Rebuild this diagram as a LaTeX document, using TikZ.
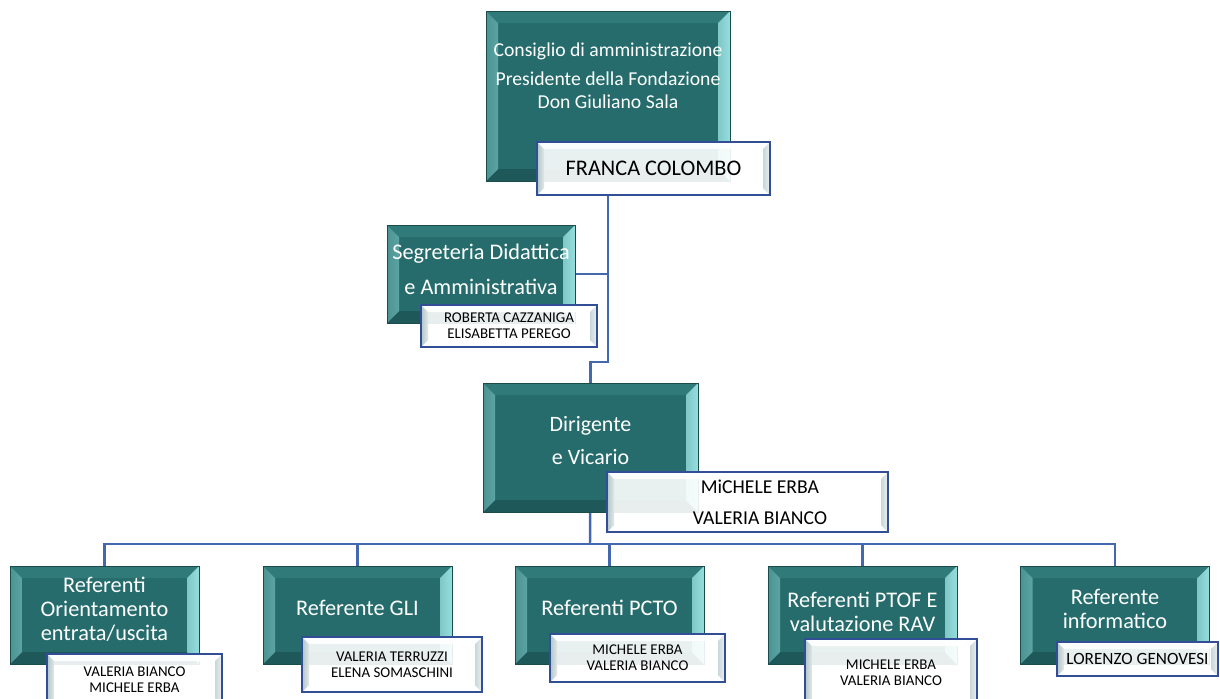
\documentclass[tikz,border=0pt]{standalone}
\usepackage{fontspec}
\setmainfont{Carlito}
\usepackage{tikz}
\usetikzlibrary{positioning, backgrounds, calc}

\definecolor{tealbase}{RGB}{38,108,108}
\definecolor{tealbordo}{RGB}{26,76,76}
\definecolor{bevsx}{RGB}{92,164,164}
\definecolor{bevdx}{RGB}{150,222,222}
\definecolor{bevsu}{RGB}{48,122,122}
\definecolor{bevgiu}{RGB}{30,88,88}
\definecolor{grigiosx}{RGB}{226,230,232}
\definecolor{grigiodx}{RGB}{236,238,240}
\definecolor{blubordo}{RGB}{50,78,150}
\definecolor{blulinea}{RGB}{68,104,176}

\newcommand{\pxu}{0.02cm}
% bevel: width, left, right, top, bottom colours
\newcommand{\smusso}[5]{%
  \coordinate (bsw) at (path picture bounding box.south west);
  \coordinate (bne) at (path picture bounding box.north east);
  \coordinate (bnw) at (bsw |- bne);
  \coordinate (bse) at (bne |- bsw);
  \coordinate (isw) at ([shift={(#1,#1)}]bsw);
  \coordinate (ine) at ([shift={(-#1,-#1)}]bne);
  \coordinate (inw) at ([shift={(#1,-#1)}]bnw);
  \coordinate (ise) at ([shift={(-#1,#1)}]bse);
  \fill[#4] (bnw) -- (bne) -- (ine) -- (inw) -- cycle;
  \fill[#5] (bsw) -- (bse) -- (ise) -- (isw) -- cycle;
  \shade[left color=#2!70!tealbase, right color=#2] (bsw) -- (bnw) -- (inw) -- (isw) -- cycle;
  \shade[left color=#3!80!tealbase, right color=#3] (bse) -- (bne) -- (ine) -- (ise) -- cycle;
}

\begin{document}
\begin{tikzpicture}[
    x=0.02cm, y=-0.02cm,
    misura/.style 2 args={minimum width=#1*\pxu, minimum height=#2*\pxu},
    ruolo/.style={rectangle, draw=tealbordo, fill=tealbase, line width=0.4pt, inner sep=0pt,
        path picture={\smusso{0.24cm}{bevsx}{bevdx}{bevsu}{bevgiu}}},
    nomi/.style={rectangle, draw=blubordo, fill=white, fill opacity=0.9, text opacity=1, line width=1.3pt,
        inner sep=0pt, align=center, font=\fontsize{8.5}{9.2}\selectfont,
        path picture={\smusso{0.14cm}{grigiosx}{grigiodx}{white}{white}}},
    titolo/.style={text=white, align=center, inner sep=0pt, font=\fontsize{12.7}{13.6}\selectfont},
    linea/.style={draw=blulinea, line width=1.4pt}
]
\useasboundingbox (0,0) rectangle (1220,698);

% Consiglio di amministrazione
\node[ruolo, misura={244}{170}] (cda) at (608,96) {};
\node[titolo, font=\fontsize{11.2}{13}\selectfont] (cda-t) at (608,76)
    {Consiglio di amministrazione\\[3.4pt]Presidente della Fondazione\\Don Giuliano Sala};
\node[nomi, misura={233}{53}, font=\fontsize{12.7}{14}\selectfont] (franca) at (653.5,168.5) {FRANCA COLOMBO};

% Segreteria
\node[ruolo, misura={188}{98}] (segr) at (481,274) {};
\node[titolo, font=\fontsize{12.7}{19.8}\selectfont] (segr-t) at (481,269.5) {Segreteria Didattica\\e Amministrativa};
\node[nomi, misura={176}{42}] (segr-n) at (509,326) {ROBERTA CAZZANIGA\\ELISABETTA PEREGO};

% Dirigente
\node[ruolo, misura={215}{129}] (dir) at (590.5,447.5) {};
\node[titolo, font=\fontsize{12.5}{18.7}\selectfont] (dir-t) at (590.5,440.5) {Dirigente\\e Vicario};
\node[nomi, misura={281}{60}, font=\fontsize{11.2}{17.6}\selectfont] (dir-n) at (747.5,502)
    {\hspace*{0.5cm}MiCHELE ERBA\\\hspace*{0.5cm}VALERIA BIANCO};

% Referenti
\node[ruolo, misura={189}{98}] (ref1) at (104.5,615) {};
\node[titolo] (ref1-t) at (104.5,609) {Referenti\\Orientamento\\entrata/uscita};
\node[nomi, misura={175}{51}] (ref1-n) at (134.5,679.5) {VALERIA BIANCO\\MICHELE ERBA};

\node[ruolo, misura={189}{98}] (ref2) at (357.5,615) {};
\node[titolo] (ref2-t) at (357.5,608) {Referente GLI};
\node[nomi, misura={180}{55}] (ref2-n) at (392,664.5) {VALERIA TERRUZZI\\ELENA SOMASCHINI};

\node[ruolo, misura={189}{98}] (ref3) at (609.5,615) {};
\node[titolo] (ref3-t) at (609.5,608) {Referenti PCTO};
\node[nomi, misura={175}{48}] (ref3-n) at (637.5,658) {MICHELE ERBA\\VALERIA BIANCO};

\node[ruolo, misura={189}{98}] (ref4) at (862.5,615) {};
\node[titolo] (ref4-t) at (862.5,612) {Referenti PTOF E\\valutazione RAV};
\node[nomi, misura={172}{68}] (ref4-n) at (891,673) {MICHELE ERBA\\VALERIA BIANCO};

\node[ruolo, misura={189}{98}] (ref5) at (1115,615) {};
\node[titolo] (ref5-t) at (1115,609) {Referente\\informatico};
\node[nomi, misura={161}{34}, font=\fontsize{9.8}{11}\selectfont] (ref5-n) at (1137.5,659) {LORENZO GENOVESI};

% Linee
\coordinate (snodo) at (608,362);
\coordinate (bus) at (590,544);
\begin{scope}[on background layer]
\draw[linea] (cda |- franca.south) -- (snodo) -| (dir);
\draw[linea] (segr.east) -- (segr.east -| snodo);
\draw[linea] (dir) -- (bus);
\draw[linea] (bus) -| (ref1);
\draw[linea] (bus) -| (ref2);
\draw[linea] (bus) -| (ref3);
\draw[linea] (bus) -| (ref4);
\draw[linea] (bus) -| (ref5);
\end{scope}

\end{tikzpicture}
\end{document}
